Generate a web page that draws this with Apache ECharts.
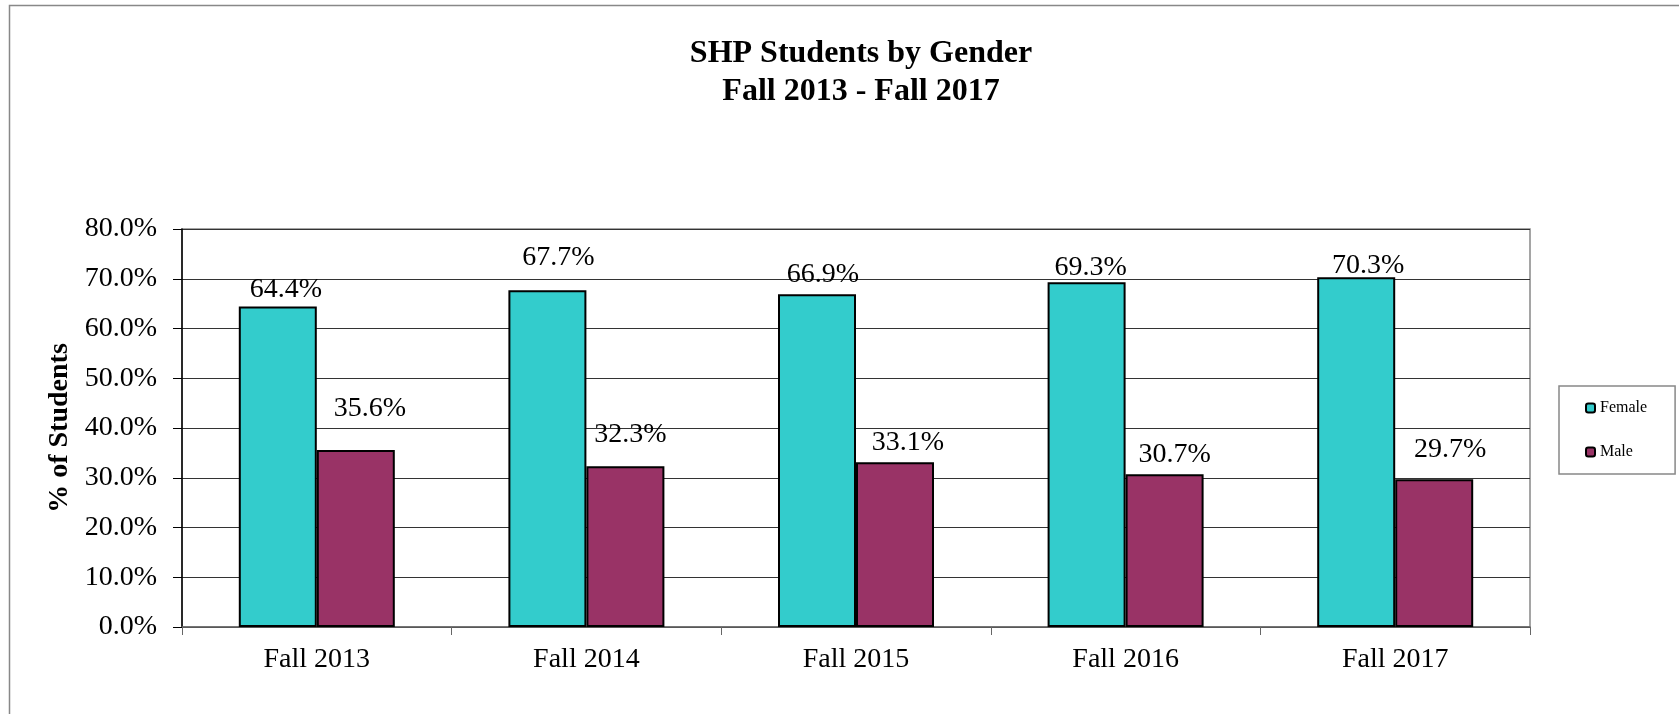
<!DOCTYPE html>
<html><head><meta charset="utf-8">
<script src="https://cdn.jsdelivr.net/npm/echarts@6/dist/echarts.min.js"></script>
<style>html,body{margin:0;padding:0;background:#fff}#c{width:1679px;height:714px}</style>
</head><body><div id="c"></div>
<script>
const categories = ['Fall 2013', 'Fall 2014', 'Fall 2015', 'Fall 2016', 'Fall 2017'];
const femaleValues = [64.4, 67.7, 66.9, 69.3, 70.3];
const maleValues = [35.6, 32.3, 33.1, 30.7, 29.7];
const yTicks = [0, 10, 20, 30, 40, 50, 60, 70, 80];
// label placement tweaks (dx, gap above bar) as in the original
const femaleLabelShift = [[8, 8], [11, 24], [6, 11], [4, 6], [12, 3]];
const maleLabelShift = [[14, 32], [5, 23], [13, 11], [10, 11], [16, 21]];

const FONT = '"Liberation Serif", "Times New Roman", serif';
function mkData(vals, shifts) {
  return vals.map((v, i) => ({
    value: v,
    label: { offset: [shifts[i][0], -(shifts[i][1] - 5)] }
  }));
}
const chart = echarts.init(document.getElementById('c'));
chart.setOption({
  animation: false,
  backgroundColor: '#fff',
  title: {
    text: 'SHP Students by Gender\nFall 2013 - Fall 2017',
    left: 856, top: 30, textAlign: 'center',
    textStyle: { fontFamily: FONT, fontSize: 32, fontWeight: 'bold', color: '#000', lineHeight: 38 }
  },
  graphic: [{
    type: 'rect', silent: true, z: -1,
    shape: { x: 9.5, y: 5.5, width: 1700, height: 800 },
    style: { fill: 'none', stroke: '#888', lineWidth: 1.5 }
  }],
  legend: {
    orient: 'vertical', left: 1559, top: 386,
    padding: [14, 28, 14, 26], itemGap: 28,
    itemWidth: 9, itemHeight: 9,
    borderColor: '#888', borderWidth: 1.5, backgroundColor: '#fff',
    textStyle: { fontFamily: FONT, fontSize: 16, color: '#000' },
    data: [
      { name: 'Female', itemStyle: { borderColor: '#000', borderWidth: 2 } },
      { name: 'Male', itemStyle: { borderColor: '#000', borderWidth: 2 } }
    ]
  },
  grid: { left: 182, right: 149, top: 229, bottom: 87, show: true, borderColor: '#888', borderWidth: 1.5 },
  xAxis: {
    type: 'category', data: categories,
    axisLine: { lineStyle: { color: '#666', width: 1.5 } },
    axisTick: { show: true, length: 8, lineStyle: { color: '#666' } },
    axisLabel: { fontFamily: FONT, fontSize: 28, color: '#000', margin: 19 }
  },
  yAxis: {
    type: 'value', min: yTicks[0], max: yTicks[yTicks.length - 1], interval: 10,
    name: '% of Students', nameLocation: 'middle', nameGap: 103,
    nameTextStyle: { fontFamily: FONT, fontSize: 28, fontWeight: 'bold', color: '#000' },
    axisLine: { show: true, lineStyle: { color: '#000', width: 1.5 } },
    axisTick: { show: true, length: 9, lineStyle: { color: '#000' } },
    axisLabel: { fontFamily: FONT, fontSize: 28, color: '#000', margin: 25, formatter: v => v.toFixed(1) + '%' },
    splitLine: { show: true, lineStyle: { color: '#333', width: 1 } }
  },
  series: [
    {
      name: 'Female', type: 'bar', barWidth: 78, barGap: '0%',
      data: mkData(femaleValues, femaleLabelShift),
      itemStyle: { color: '#33CCCC', borderColor: '#000', borderWidth: 2 },
      label: { show: true, position: 'top', distance: 0, fontFamily: FONT, fontSize: 28, color: '#000', formatter: p => p.value.toFixed(1) + '%' }
    },
    {
      name: 'Male', type: 'bar', barWidth: 78, barGap: '0%',
      data: mkData(maleValues, maleLabelShift),
      itemStyle: { color: '#993366', borderColor: '#000', borderWidth: 2 },
      label: { show: true, position: 'top', distance: 0, fontFamily: FONT, fontSize: 28, color: '#000', formatter: p => p.value.toFixed(1) + '%' }
    }
  ]
});
</script></body></html>
